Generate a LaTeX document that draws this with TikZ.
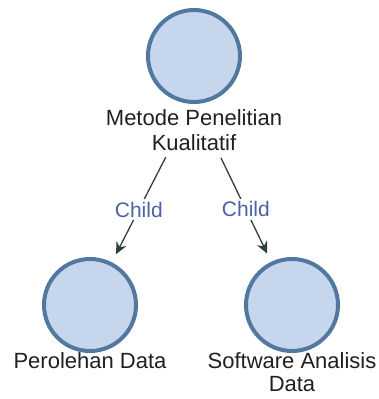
\documentclass[tikz,border=0pt]{standalone}
\usepackage{fontspec}
\setmainfont{Liberation Sans}
\usetikzlibrary{arrows.meta}
\definecolor{ballfill}{HTML}{C6D6EC}
\definecolor{balledge}{HTML}{52789F}
\definecolor{txtdark}{HTML}{202020}
\definecolor{lblblue}{HTML}{4A62A6}
\definecolor{arrowdark}{HTML}{2E3F3F}

\begin{document}
\begin{tikzpicture}[x=1pt,y=-1pt,every node/.style={outer sep=0pt},font=\fontsize{22}{25}\selectfont]
\tikzstyle{ball}=[circle,draw=balledge,fill=ballfill,line width=4pt,minimum size=92pt,inner sep=0pt]
\tikzstyle{caption}=[text=txtdark,align=center,inner sep=0pt,anchor=north]
\tikzstyle{childedge}=[draw=arrowdark,line width=1.3pt,-{Stealth[length=12pt,width=11pt]},shorten <=62pt,shorten >=11pt]
\tikzstyle{childlbl}=[text=lblblue,fill=white,inner sep=3pt,font=\fontsize{21}{24}\selectfont]

\useasboundingbox (0,0) rectangle (379,399);

\node (top_node) at (194,56) [ball] {};
\node (top_lbl) at (top_node.south) [caption,yshift=-8pt] {Metode Penelitian\\Kualitatif};
\node (left_node) at (90,305) [ball] {};
\node (left_lbl) at (left_node.south) [caption,yshift=-2pt] {Perolehan Data};
\node (right_node) at (292,305) [ball] {};
\node (right_lbl) at (right_node.south) [caption,yshift=-2pt,font=\fontsize{22}{23}\selectfont] {Software Analisis\\Data};

\draw [childedge] (top_node.south) -- node[childlbl,pos=0.665] {Child} (left_node);
\draw [childedge] (top_node.south) -- node[childlbl,pos=0.665] {Child} (right_node);

\end{tikzpicture}
\end{document}
